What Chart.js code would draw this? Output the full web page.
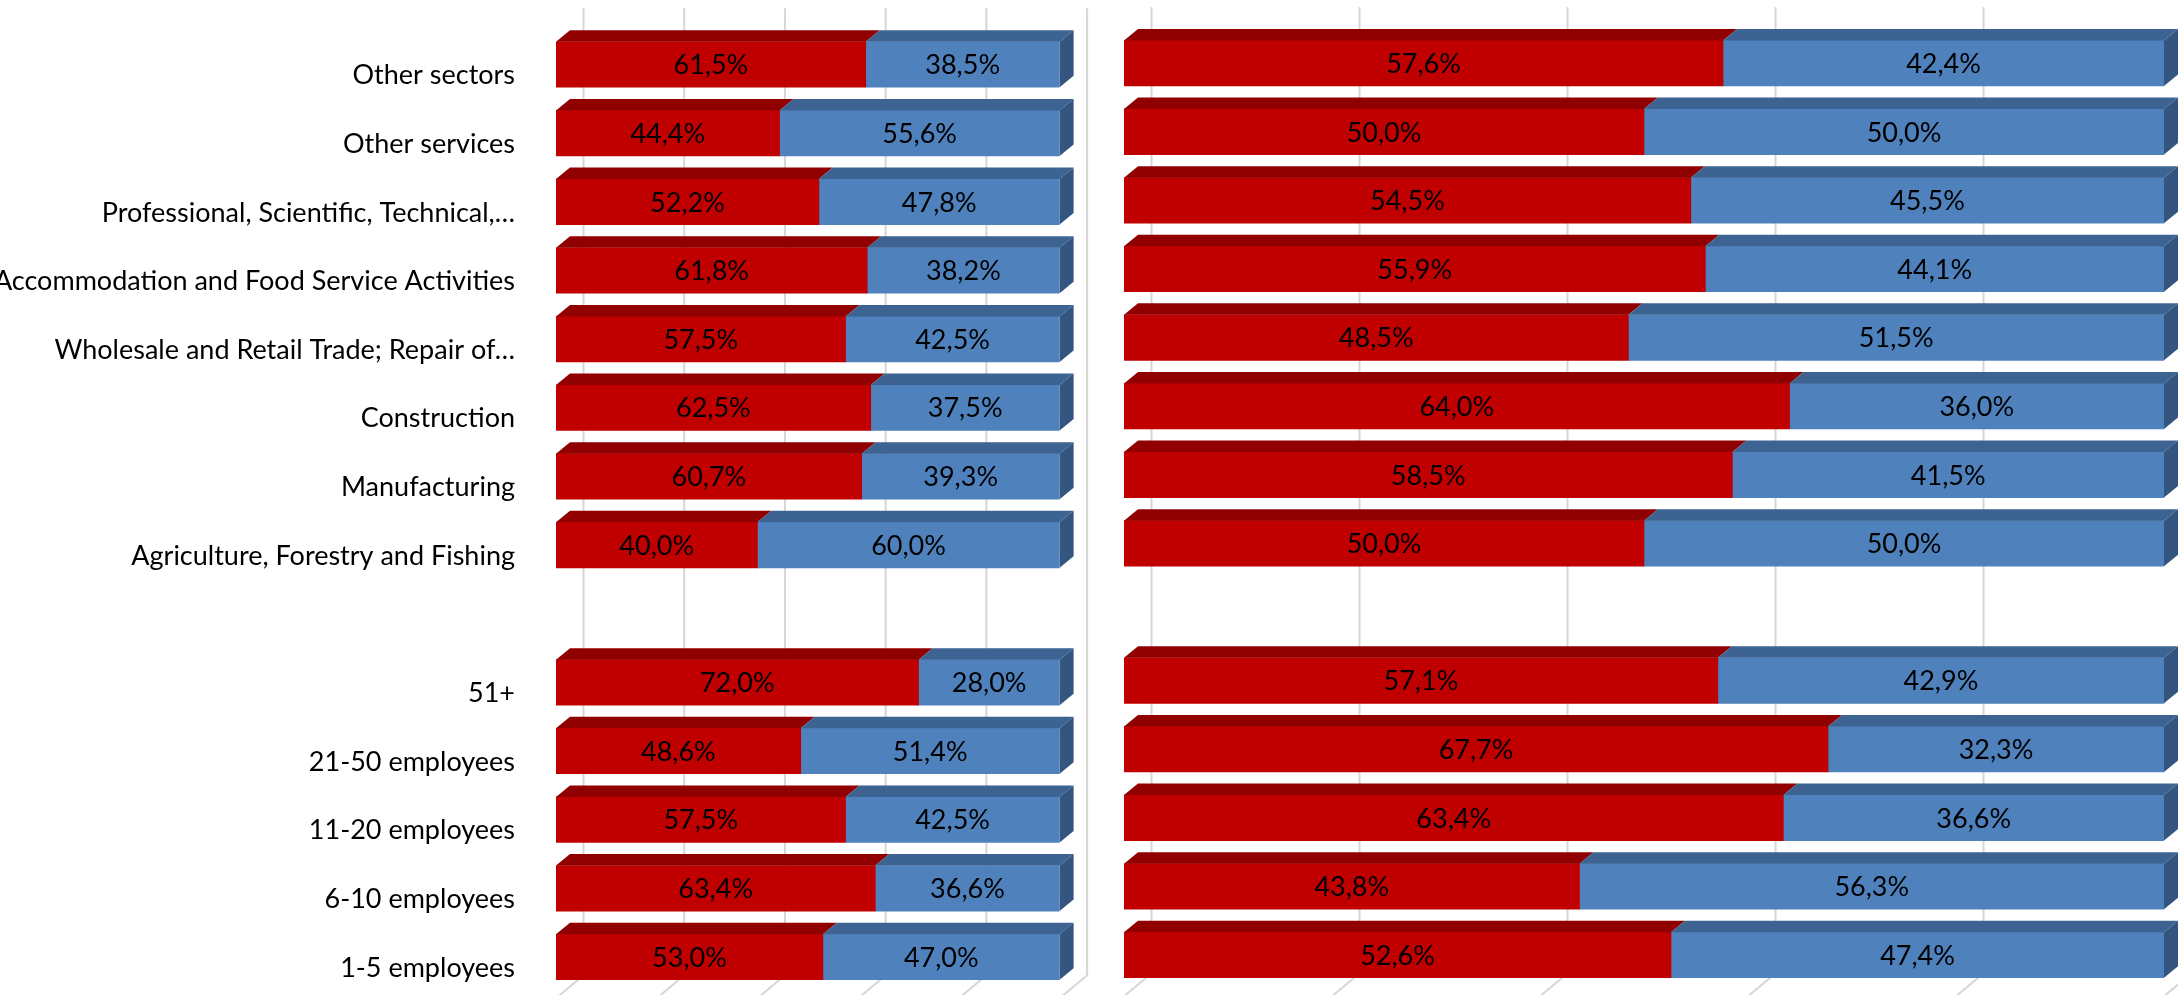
<!DOCTYPE html>
<html>
<head>
<meta charset="utf-8">
<script src="https://cdn.jsdelivr.net/npm/chart.js@4/dist/chart.umd.min.js"></script>
<style>
    html, body { margin: 0; padding: 0; background: #fff; overflow: hidden; }
    canvas { position: absolute; top: 0; }
</style>
</head>
<body>
<canvas id="leftChart" width="1100" height="995" style="left:0px"></canvas>
<canvas id="rightChart" width="1078" height="995" style="left:1100px"></canvas>
<script>
// categories, top to bottom ('' is the empty row between the two groups)
const categories = [
    'Other sectors',
    'Other services',
    'Professional, Scientific, Technical,…',
    'Accommodation and Food Service Activities',
    'Wholesale and Retail Trade; Repair of…',
    'Construction',
    'Manufacturing',
    'Agriculture, Forestry and Fishing',
    '',
    '51+',
    '21-50 employees',
    '11-20 employees',
    '6-10 employees',
    '1-5 employees'
];

// left panel (percent)
const leftRed  = [61.5, 44.4, 52.2, 61.8, 57.5, 62.5, 60.7, 40.0, null, 72.0, 48.6, 57.5, 63.4, 53.0];
const leftBlue = [38.5, 55.6, 47.8, 38.2, 42.5, 37.5, 39.3, 60.0, null, 28.0, 51.4, 42.5, 36.6, 47.0];

// right panel (percent)
const rightRed  = [57.6, 50.0, 54.5, 55.9, 48.5, 64.0, 58.5, 50.0, null, 57.1, 67.7, 63.4, 43.8, 52.6];
const rightBlue = [42.4, 50.0, 45.5, 44.1, 51.5, 36.0, 41.5, 50.0, null, 42.9, 32.3, 36.6, 56.3, 47.4];

// value axis gridlines (drawn on the back wall)
const xTicks = [0, 20, 40, 60, 80, 100];

const DEPTH_X = 14, DEPTH_Y = 11.5;   // bar depth
const WALL_X = 27.5, WALL_Y = 23;     // back wall offset

function fmtPct(v) {
    return v.toFixed(1).replace('.', ',') + '%';
}

// draws the fake 3D look: back wall gridlines, floor lines, bar tops, end faces and labels
const bar3d = {
    id: 'bar3d',
    beforeDatasetsDraw(chart) {
        const ctx = chart.ctx;
        const area = chart.chartArea;
        const x = chart.scales.x;
        const wallTop = area.top - 22;
        const floorY = area.bottom - 16;
        ctx.save();
        ctx.strokeStyle = '#d6d6d6';
        ctx.lineWidth = 2;
        xTicks.forEach(function (v) {
            const px = x.getPixelForValue(v) + WALL_X;
            ctx.beginPath();
            ctx.moveTo(px, wallTop);
            ctx.lineTo(px, floorY);
            ctx.lineTo(px - WALL_X, floorY + WALL_Y);
            ctx.stroke();
        });
        ctx.restore();
    },
    afterDatasetsDraw(chart) {
        const ctx = chart.ctx;
        const sets = chart.data.datasets;
        const last = sets.length - 1;
        const right = chart.chartArea.right;
        ctx.save();
        sets.forEach(function (ds, di) {
            chart.getDatasetMeta(di).data.forEach(function (bar, i) {
                if (ds.data[i] == null) return;
                const p = bar.getProps(['x', 'y', 'base', 'height'], true);
                const end = Math.min(p.x, right); // sums like 100,1% stop at the frame
                const top = p.y - p.height / 2;
                const bottom = p.y + p.height / 2;
                // top face
                ctx.fillStyle = ds.topColor;
                ctx.beginPath();
                ctx.moveTo(p.base, top);
                ctx.lineTo(p.base + DEPTH_X, top - DEPTH_Y);
                ctx.lineTo(end + DEPTH_X, top - DEPTH_Y);
                ctx.lineTo(end, top);
                ctx.closePath();
                ctx.fill();
                // end face on the last segment
                if (di === last) {
                    ctx.fillStyle = ds.sideColor;
                    ctx.beginPath();
                    ctx.moveTo(end, top);
                    ctx.lineTo(end + DEPTH_X, top - DEPTH_Y);
                    ctx.lineTo(end + DEPTH_X, bottom - DEPTH_Y);
                    ctx.lineTo(end, bottom);
                    ctx.closePath();
                    ctx.fill();
                }
            });
        });
        // value labels
        ctx.fillStyle = '#000';
        ctx.font = '27px Lato';
        ctx.textAlign = 'center';
        ctx.textBaseline = 'middle';
        sets.forEach(function (ds, di) {
            chart.getDatasetMeta(di).data.forEach(function (bar, i) {
                if (ds.data[i] == null) return;
                const p = bar.getProps(['x', 'y', 'base'], true);
                const end = Math.min(p.x, right);
                ctx.fillText(fmtPct(ds.data[i]), (end + p.base) / 2, p.y + 1);
            });
        });
        ctx.restore();
    }
};

function makeDatasets(red, blue) {
    return [{
        label: 'Series 1',
        data: red,
        backgroundColor: '#c00000',
        topColor: '#900000',
        sideColor: '#900000',
        barThickness: 45.5
    }, {
        label: 'Series 2',
        data: blue,
        backgroundColor: '#4f81bd',
        topColor: '#3c6391',
        sideColor: '#34557f',
        barThickness: 45.5
    }];
}

function makeChart(id, red, blue, showLabels, padding) {
    const ctx = document.getElementById(id).getContext('2d');
    return new Chart(ctx, {
        type: 'bar',
        data: {
            labels: categories,
            datasets: makeDatasets(red, blue)
        },
        options: {
            indexAxis: 'y',
            responsive: false,
            animation: false,
            devicePixelRatio: 1,
            layout: { padding: padding },
            plugins: {
                legend: { display: false },
                tooltip: { enabled: false }
            },
            scales: {
                x: {
                    stacked: true,
                    min: 0,
                    max: 100,
                    display: false
                },
                y: {
                    stacked: true,
                    display: showLabels,
                    grid: { display: false, drawTicks: false },
                    border: { display: false },
                    ticks: {
                        autoSkip: false,
                        color: '#000',
                        padding: 41,
                        labelOffset: 11,
                        font: { family: 'Lato', size: 27 }
                    },
                    afterFit: function (scale) {
                        if (!showLabels) return;
                        scale.width = 556;
                        scale.paddingTop = 0;
                        scale.paddingBottom = 0;
                    }
                }
            }
        },
        plugins: [bar3d]
    });
}

makeChart('leftChart', leftRed, leftBlue, true, { left: 0, right: 40.4, top: 30.2, bottom: 3.7 });
makeChart('rightChart', rightRed, rightBlue, false, { left: 24, right: 14, top: 28.9, bottom: 5.7 });
</script>
</body>
</html>
